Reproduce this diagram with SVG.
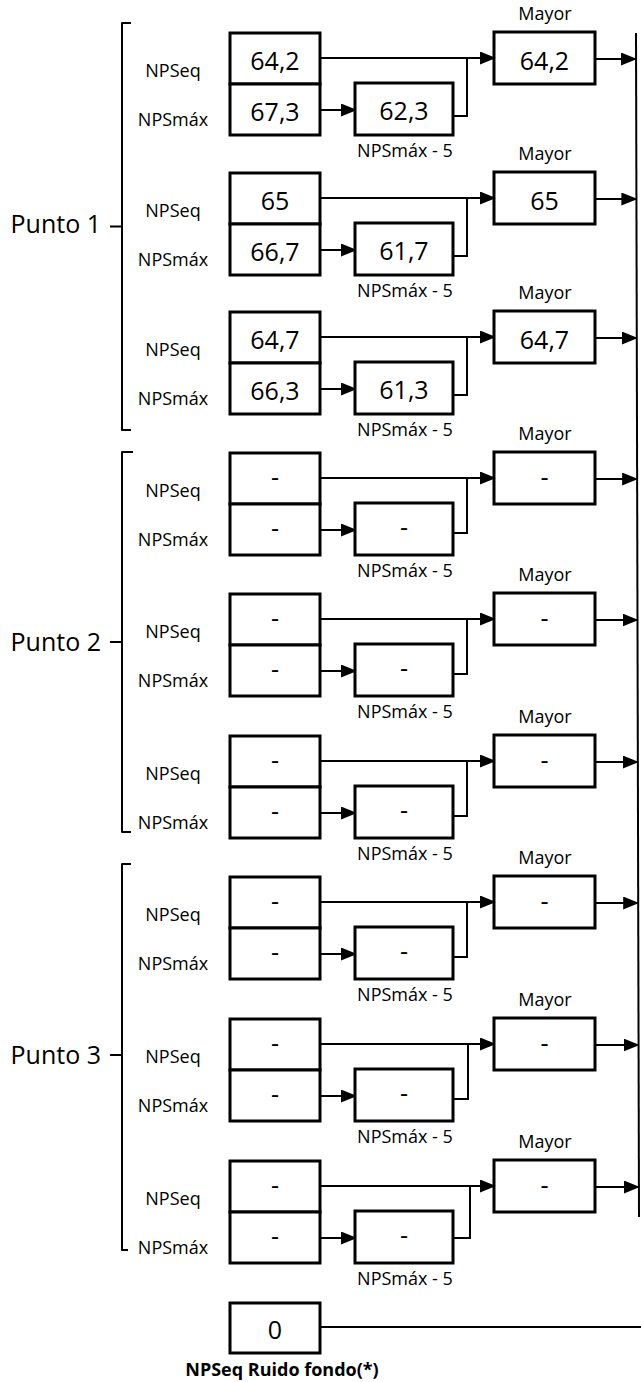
<svg xmlns="http://www.w3.org/2000/svg" width="641" height="1382" viewBox="0 0 641 1382">
<style>
.bx{fill:#fff;stroke:#000;stroke-width:3}
.v{font-family:"Open Sans","DejaVu Sans",sans-serif;font-size:25px;text-anchor:middle;fill:#000}
.l{font-family:"Open Sans","DejaVu Sans",sans-serif;font-size:18px;text-anchor:middle;fill:#000}
.p{font-family:"Open Sans","DejaVu Sans",sans-serif;font-size:25px;text-anchor:end;fill:#000}
.b{font-family:"Open Sans","DejaVu Sans",sans-serif;font-size:18px;font-weight:bold;text-anchor:middle;fill:#000}
.c{fill:none;stroke:#000;stroke-width:2}
.k{fill:none;stroke:#000;stroke-width:2;stroke-linejoin:round}
</style>
<defs>
<marker id="ah" viewBox="0 0 16 13" refX="14" refY="6.5" markerWidth="16" markerHeight="13" markerUnits="userSpaceOnUse" orient="auto"><polygon points="0,0 16,6.5 0,13" fill="#000"/></marker>
</defs>
<rect width="641" height="1382" fill="#fff"/>
<g id="brackets">
<path class="k" d="M131 23 H122 V430 H131 M122 226.5 H110"/>
<path class="k" d="M133 452 H122 V832 H131 M122 642 H110"/>
<path class="k" d="M131 864 H122 V1250 H128 M122 1055 H110"/>
<text class="p" x="101" y="233">Punto 1</text>
<text class="p" x="101" y="651">Punto 2</text>
<text class="p" x="101" y="1064">Punto 3</text>
</g>
<g id="labels">
<text class="l" x="173" y="77">NPSeq</text><text class="l" x="173" y="126">NPSmáx</text><text class="l" x="545" y="20">Mayor</text><text class="l" x="405" y="157">NPSmáx - 5</text>
<text class="l" x="173" y="217">NPSeq</text><text class="l" x="173" y="266">NPSmáx</text><text class="l" x="545" y="160">Mayor</text><text class="l" x="405" y="297">NPSmáx - 5</text>
<text class="l" x="173" y="356">NPSeq</text><text class="l" x="173" y="405">NPSmáx</text><text class="l" x="545" y="299">Mayor</text><text class="l" x="405" y="436">NPSmáx - 5</text>
<text class="l" x="173" y="497">NPSeq</text><text class="l" x="173" y="546">NPSmáx</text><text class="l" x="545" y="440">Mayor</text><text class="l" x="405" y="577">NPSmáx - 5</text>
<text class="l" x="173" y="638">NPSeq</text><text class="l" x="173" y="687">NPSmáx</text><text class="l" x="545" y="581">Mayor</text><text class="l" x="405" y="718">NPSmáx - 5</text>
<text class="l" x="173" y="780">NPSeq</text><text class="l" x="173" y="829">NPSmáx</text><text class="l" x="545" y="723">Mayor</text><text class="l" x="405" y="860">NPSmáx - 5</text>
<text class="l" x="173" y="921">NPSeq</text><text class="l" x="173" y="970">NPSmáx</text><text class="l" x="545" y="864">Mayor</text><text class="l" x="405" y="1001">NPSmáx - 5</text>
<text class="l" x="173" y="1063">NPSeq</text><text class="l" x="173" y="1112">NPSmáx</text><text class="l" x="545" y="1006">Mayor</text><text class="l" x="405" y="1143">NPSmáx - 5</text>
<text class="l" x="173" y="1205">NPSeq</text><text class="l" x="173" y="1254">NPSmáx</text><text class="l" x="545" y="1148">Mayor</text><text class="l" x="405" y="1285">NPSmáx - 5</text>
<text class="b" x="282" y="1376">NPSeq Ruido fondo(*)</text>
</g>
<g id="connectors">
<path class="c" d="M636 33 L639 1217"/>
<path class="c" d="M320 58 H494" marker-end="url(#ah)"/><path class="c" d="M320 110 H355" marker-end="url(#ah)"/><path class="c" d="M453 116 H467 V58"/><path class="c" d="M595 59 H635" marker-end="url(#ah)"/>
<path class="c" d="M320 198 H494" marker-end="url(#ah)"/><path class="c" d="M320 250 H355" marker-end="url(#ah)"/><path class="c" d="M453 256 H467 V198"/><path class="c" d="M595 199 H635.4" marker-end="url(#ah)"/>
<path class="c" d="M320 337 H494" marker-end="url(#ah)"/><path class="c" d="M320 389 H355" marker-end="url(#ah)"/><path class="c" d="M453 395 H467 V337"/><path class="c" d="M595 338 H635.8" marker-end="url(#ah)"/>
<path class="c" d="M320 478 H494" marker-end="url(#ah)"/><path class="c" d="M320 530 H355" marker-end="url(#ah)"/><path class="c" d="M453 533 H467 V478"/><path class="c" d="M595 479 H636.1" marker-end="url(#ah)"/>
<path class="c" d="M320 619 H494" marker-end="url(#ah)"/><path class="c" d="M320 671 H355" marker-end="url(#ah)"/><path class="c" d="M453 674 H467 V619"/><path class="c" d="M595 620 H636.5" marker-end="url(#ah)"/>
<path class="c" d="M320 761 H494" marker-end="url(#ah)"/><path class="c" d="M320 813 H355" marker-end="url(#ah)"/><path class="c" d="M453 816 H467 V761"/><path class="c" d="M595 762 H636.8" marker-end="url(#ah)"/>
<path class="c" d="M320 902 H494" marker-end="url(#ah)"/><path class="c" d="M320 954 H355" marker-end="url(#ah)"/><path class="c" d="M453 957 H467 V902"/><path class="c" d="M595 903 H637.2" marker-end="url(#ah)"/>
<path class="c" d="M320 1044 H494" marker-end="url(#ah)"/><path class="c" d="M320 1096 H355" marker-end="url(#ah)"/><path class="c" d="M453 1099 H468 V1044"/><path class="c" d="M595 1045 H637.6" marker-end="url(#ah)"/>
<path class="c" d="M320 1186 H494" marker-end="url(#ah)"/><path class="c" d="M320 1238 H355" marker-end="url(#ah)"/><path class="c" d="M453 1238 H470 V1186"/><path class="c" d="M595 1187 H637.9" marker-end="url(#ah)"/>
<path class="c" d="M320 1327 H641"/>
</g>
<g id="b1-eq"><rect class="bx" x="230" y="33" width="90" height="51"/><text class="v" x="275" y="70">64,2</text></g>
<g id="b1-max"><rect class="bx" x="230" y="84" width="90" height="51"/><text class="v" x="275" y="121">67,3</text></g>
<g id="b1-m5"><rect class="bx" x="355" y="83" width="98" height="52"/><text class="v" x="404" y="120">62,3</text></g>
<g id="b1-mayor"><rect class="bx" x="494" y="32" width="101" height="52"/><text class="v" x="544.5" y="70">64,2</text></g>
<g id="b2-eq"><rect class="bx" x="230" y="173" width="90" height="51"/><text class="v" x="275" y="210">65</text></g>
<g id="b2-max"><rect class="bx" x="230" y="224" width="90" height="51"/><text class="v" x="275" y="261">66,7</text></g>
<g id="b2-m5"><rect class="bx" x="355" y="223" width="98" height="52"/><text class="v" x="404" y="260">61,7</text></g>
<g id="b2-mayor"><rect class="bx" x="494" y="172" width="101" height="52"/><text class="v" x="544.5" y="210">65</text></g>
<g id="b3-eq"><rect class="bx" x="230" y="312" width="90" height="51"/><text class="v" x="275" y="349">64,7</text></g>
<g id="b3-max"><rect class="bx" x="230" y="363" width="90" height="51"/><text class="v" x="275" y="400">66,3</text></g>
<g id="b3-m5"><rect class="bx" x="355" y="362" width="98" height="52"/><text class="v" x="404" y="399">61,3</text></g>
<g id="b3-mayor"><rect class="bx" x="494" y="311" width="101" height="52"/><text class="v" x="544.5" y="349">64,7</text></g>
<g id="b4-eq"><rect class="bx" x="230" y="453" width="90" height="51"/><text class="v" x="275" y="486">-</text></g>
<g id="b4-max"><rect class="bx" x="230" y="504" width="90" height="51"/><text class="v" x="275" y="537">-</text></g>
<g id="b4-m5"><rect class="bx" x="355" y="503" width="98" height="52"/><text class="v" x="404" y="536">-</text></g>
<g id="b4-mayor"><rect class="bx" x="494" y="452" width="101" height="52"/><text class="v" x="544.5" y="486">-</text></g>
<g id="b5-eq"><rect class="bx" x="230" y="594" width="90" height="51"/><text class="v" x="275" y="627">-</text></g>
<g id="b5-max"><rect class="bx" x="230" y="645" width="90" height="51"/><text class="v" x="275" y="678">-</text></g>
<g id="b5-m5"><rect class="bx" x="355" y="644" width="98" height="52"/><text class="v" x="404" y="677">-</text></g>
<g id="b5-mayor"><rect class="bx" x="494" y="593" width="101" height="52"/><text class="v" x="544.5" y="627">-</text></g>
<g id="b6-eq"><rect class="bx" x="230" y="736" width="90" height="51"/><text class="v" x="275" y="769">-</text></g>
<g id="b6-max"><rect class="bx" x="230" y="787" width="90" height="51"/><text class="v" x="275" y="820">-</text></g>
<g id="b6-m5"><rect class="bx" x="355" y="786" width="98" height="52"/><text class="v" x="404" y="819">-</text></g>
<g id="b6-mayor"><rect class="bx" x="494" y="735" width="101" height="52"/><text class="v" x="544.5" y="769">-</text></g>
<g id="b7-eq"><rect class="bx" x="230" y="877" width="90" height="51"/><text class="v" x="275" y="910">-</text></g>
<g id="b7-max"><rect class="bx" x="230" y="928" width="90" height="51"/><text class="v" x="275" y="961">-</text></g>
<g id="b7-m5"><rect class="bx" x="355" y="927" width="98" height="52"/><text class="v" x="404" y="960">-</text></g>
<g id="b7-mayor"><rect class="bx" x="494" y="876" width="101" height="52"/><text class="v" x="544.5" y="910">-</text></g>
<g id="b8-eq"><rect class="bx" x="230" y="1019" width="90" height="51"/><text class="v" x="275" y="1052">-</text></g>
<g id="b8-max"><rect class="bx" x="230" y="1070" width="90" height="51"/><text class="v" x="275" y="1103">-</text></g>
<g id="b8-m5"><rect class="bx" x="355" y="1069" width="98" height="52"/><text class="v" x="404" y="1102">-</text></g>
<g id="b8-mayor"><rect class="bx" x="494" y="1018" width="101" height="52"/><text class="v" x="544.5" y="1052">-</text></g>
<g id="b9-eq"><rect class="bx" x="230" y="1161" width="90" height="51"/><text class="v" x="275" y="1194">-</text></g>
<g id="b9-max"><rect class="bx" x="230" y="1212" width="90" height="51"/><text class="v" x="275" y="1245">-</text></g>
<g id="b9-m5"><rect class="bx" x="355" y="1211" width="98" height="52"/><text class="v" x="404" y="1244">-</text></g>
<g id="b9-mayor"><rect class="bx" x="494" y="1160" width="101" height="52"/><text class="v" x="544.5" y="1194">-</text></g>
<g id="ruido"><rect class="bx" x="230" y="1303" width="90" height="50"/><text class="v" x="275" y="1339">0</text></g>
</svg>
